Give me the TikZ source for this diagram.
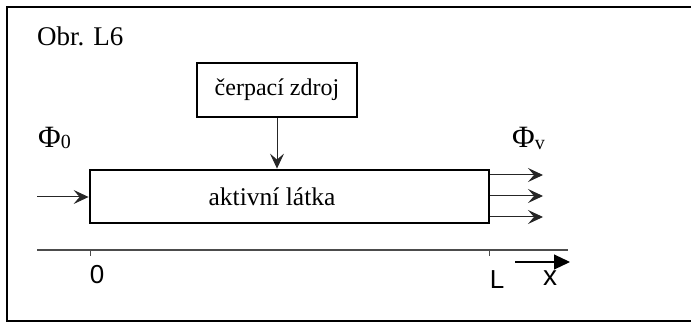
\documentclass[tikz,border=0pt]{standalone}
\usepackage{fontspec}
\setmainfont{Liberation Serif}
\newfontfamily\axisfont{Liberation Sans}
\usetikzlibrary{arrows.meta}
\begin{document}
\begin{tikzpicture}[x=1pt,y=-1pt,
  thinarrow/.style={line width=1pt,black!85,-{Stealth[length=15pt,width=14pt,inset=6pt]}},
  boxstyle/.style={draw,line width=2.8pt,inner sep=0pt},
  lbl/.style={font=\fontsize{24}{28}\selectfont,inner sep=0pt},
  philbl/.style={font=\fontsize{31}{34}\selectfont,inner sep=0pt,anchor=base west},
  axlbl/.style={font=\axisfont\fontsize{26}{28}\selectfont,inner sep=0pt}]
\useasboundingbox (0,0) rectangle (691,323);
% frame
\draw[line width=2pt] (694,7) -- (7,7) -- (7,321) -- (694,321);
\node[lbl,font=\fontsize{27}{30}\selectfont,anchor=base west] (title) at (37,46) {Obr. L6};
% boxes
\node[boxstyle,minimum width=399pt,minimum height=53pt] (medium) at (289.5,196.5) {};
\node[lbl,font=\fontsize{25.5}{28}\selectfont] (mediumlbl) at (272,197) {aktivní látka};
\node[boxstyle,line width=2.4pt,minimum width=160pt,minimum height=54pt,lbl] (pump) at (277,90) {čerpací zdroj};
\draw[thinarrow] (pump.south) -- (pump.south |- medium.north);
% input
\coordinate (inl) at (37,197);
\draw[thinarrow] (inl) -- (medium.west |- inl);
\node[philbl] (phi0) at (38,148) {Φ\raisebox{-1pt}{\fontsize{20}{21}\selectfont 0}};
% outputs
\foreach \yy/\nm in {175/oa,196/ob,217/oc}{
  \coordinate (\nm) at (543,\yy);
  \draw[thinarrow] (medium.east |- \nm) -- (\nm);
}
\node[philbl] (phiv) at (512,148) {Φ\raisebox{-2pt}{\fontsize{20}{21}\selectfont v}};
% axis
\coordinate (axl) at (37,250);
\coordinate (axr) at (568,250);
\draw[line width=1.3pt,black!70] (axl) -- (axr);
\coordinate (t0) at (90,250);
\coordinate (tL) at (489,250);
\draw[line width=1pt,black!70] (t0) -- ++(0,6);
\draw[line width=1pt,black!70] (tL) -- ++(0,6);
\node[axlbl] (zero) at (97,275) {0};
\node[axlbl] (ell) at (497,280) {L};
\coordinate (xa) at (515,262);
\coordinate (xb) at (570,262);
\draw[line width=1.1pt,-{Triangle[length=16pt,width=15pt]}] (xa) -- (xb);
\node[axlbl,font=\axisfont\fontsize{28}{30}\selectfont] (xlbl) at (550,278) {x};
\end{tikzpicture}
\end{document}
